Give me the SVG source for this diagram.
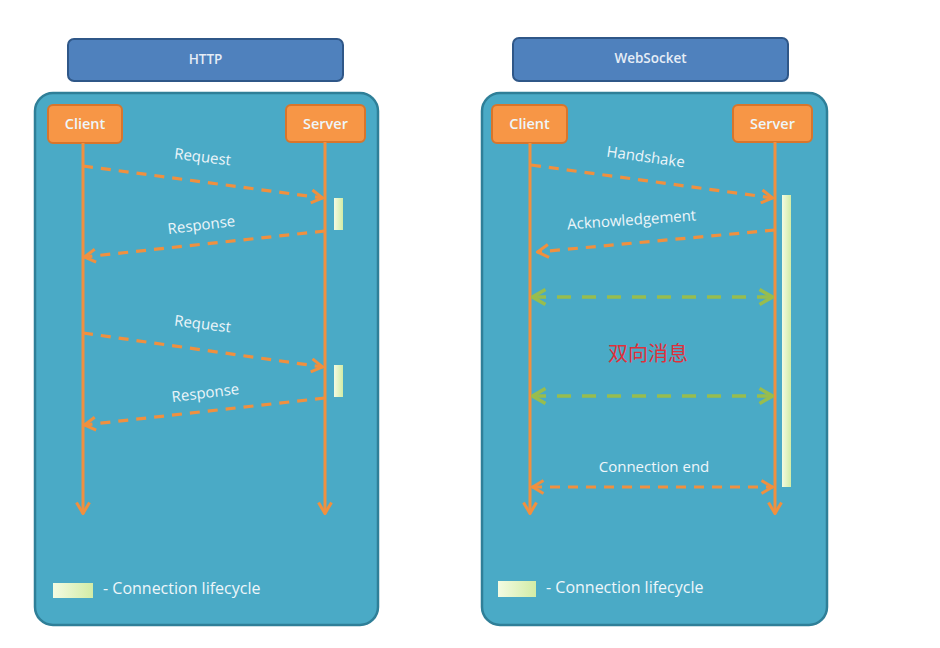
<svg xmlns="http://www.w3.org/2000/svg" width="940" height="648" viewBox="0 0 940 648">
<style>
.title{fill:#4f81bd;stroke:#2f5788;stroke-width:2}
.panel{fill:#4aaac6;stroke:#2f7f98;stroke-width:2.5}
.actor{fill:#f79646;stroke:#d8752b;stroke-width:2}
.t{font-family:"Open Sans","Noto Sans",sans-serif;fill:#eef6fa;text-anchor:middle}
.tt{font-family:"Open Sans","Noto Sans",sans-serif;fill:#e6edf6;font-size:13.5px;font-weight:600;text-anchor:middle}
.life{stroke:#f0903f;stroke-width:3;fill:none}
.msg{stroke:#f0903f;stroke-width:3.2;stroke-dasharray:10 8;fill:none}
.gmsg{stroke:#98bd4e;stroke-width:3.5;stroke-dasharray:14 11;fill:none}
.bar{fill:url(#barg)}
</style>
<defs>
<linearGradient id="barg" x1="0" y1="0" x2="1" y2="0">
<stop offset="0" stop-color="#f3fbe2"/><stop offset="1" stop-color="#d2eca6"/>
</linearGradient>
<marker id="ao" viewBox="0 0 14 16" refX="13" refY="8" markerWidth="14" markerHeight="16" markerUnits="userSpaceOnUse" orient="auto-start-reverse">
<path d="M1.5,1.5 L12.5,8 L1.5,14.5" fill="none" stroke="#f0903f" stroke-width="3"/>
</marker>
<marker id="ag" viewBox="0 0 16 18" refX="15" refY="9" markerWidth="16" markerHeight="18" markerUnits="userSpaceOnUse" orient="auto-start-reverse">
<path d="M1.5,1.5 L14.5,9 L1.5,16.5" fill="none" stroke="#98bd4e" stroke-width="3.5"/>
</marker>
</defs>
<rect width="940" height="648" fill="#ffffff"/>

<g id="http-title"><rect class="title" x="68" y="39" width="275" height="42" rx="6"/><text class="tt" x="205.5" y="64">HTTP</text></g>
<g id="http-panel"><rect class="panel" x="35" y="93" width="343" height="532" rx="18"/></g>
<g id="http-client"><rect class="actor" x="48" y="105" width="74" height="38" rx="5"/><text class="t" x="85" y="129" font-size="14.5" font-weight="600">Client</text></g>
<g id="http-server"><rect class="actor" x="286" y="105" width="79" height="37" rx="5"/><text class="t" x="325.5" y="129" font-size="14.5" font-weight="600">Server</text></g>
<g id="http-bar1"><rect class="bar" x="334" y="198" width="9" height="32"/></g>
<g id="http-bar2"><rect class="bar" x="334" y="365" width="9" height="32"/></g>
<g id="http-legend"><rect class="bar" x="53" y="583" width="40" height="15"/><text class="t" x="103" y="594" font-size="16" style="text-anchor:start">- Connection lifecycle</text></g>

<g id="ws-title"><rect class="title" x="513" y="38" width="275" height="43" rx="6"/><text class="tt" x="650.5" y="63">WebSocket</text></g>
<g id="ws-panel"><rect class="panel" x="482" y="93" width="345" height="532" rx="18"/></g>
<g id="ws-client"><rect class="actor" x="492" y="105" width="75" height="38" rx="5"/><text class="t" x="529.5" y="129" font-size="14.5" font-weight="600">Client</text></g>
<g id="ws-server"><rect class="actor" x="733" y="105" width="79" height="37" rx="5"/><text class="t" x="772.5" y="129" font-size="14.5" font-weight="600">Server</text></g>
<g id="ws-bar"><rect class="bar" x="782" y="195" width="9" height="292"/></g>
<g id="ws-legend"><rect class="bar" x="498" y="581" width="38" height="16"/><text class="t" x="546" y="593" font-size="16" style="text-anchor:start">- Connection lifecycle</text></g>
<g id="ws-bidir-label"><text x="648" y="361" font-family="'Noto Sans CJK SC',sans-serif" font-size="20" fill="#e0303a" text-anchor="middle">双向消息</text></g>

<g id="connectors">
<line class="life" x1="83" y1="143" x2="83" y2="514" marker-end="url(#ao)"/>
<line class="life" x1="325" y1="142" x2="325" y2="514" marker-end="url(#ao)"/>
<line class="msg" x1="83" y1="166" x2="323" y2="198" marker-end="url(#ao)"/>
<line class="msg" x1="325" y1="231" x2="84" y2="257" marker-end="url(#ao)"/>
<line class="msg" x1="83" y1="333" x2="323" y2="367" marker-end="url(#ao)"/>
<line class="msg" x1="325" y1="398" x2="84" y2="425" marker-end="url(#ao)"/>

<line class="life" x1="530" y1="143" x2="530" y2="514" marker-end="url(#ao)"/>
<line class="life" x1="775" y1="142" x2="775" y2="514" marker-end="url(#ao)"/>
<line class="msg" x1="531" y1="165" x2="773" y2="198" marker-end="url(#ao)"/>
<line class="msg" x1="775" y1="230" x2="537" y2="252" marker-end="url(#ao)"/>
<line class="gmsg" x1="532" y1="297" x2="773" y2="297" marker-start="url(#ag)" marker-end="url(#ag)"/>
<line class="gmsg" x1="532" y1="396" x2="773" y2="396" marker-start="url(#ag)" marker-end="url(#ag)"/>
<line class="msg" x1="532" y1="487" x2="773" y2="487" marker-start="url(#ao)" marker-end="url(#ao)"/>
</g>

<g id="labels">
<text class="t" font-size="15" transform="translate(202,162) rotate(7)">Request</text>
<text class="t" font-size="15" transform="translate(202,230) rotate(-7)">Response</text>
<text class="t" font-size="15" transform="translate(202,329) rotate(7)">Request</text>
<text class="t" font-size="15" transform="translate(206,398) rotate(-7)">Response</text>
<text class="t" font-size="15" transform="translate(645,162) rotate(8)">Handshake</text>
<text class="t" font-size="15" transform="translate(632,225) rotate(-4)">Acknowledgement</text>
<text class="t" font-size="15" x="654" y="472">Connection end</text>
</g>
</svg>
